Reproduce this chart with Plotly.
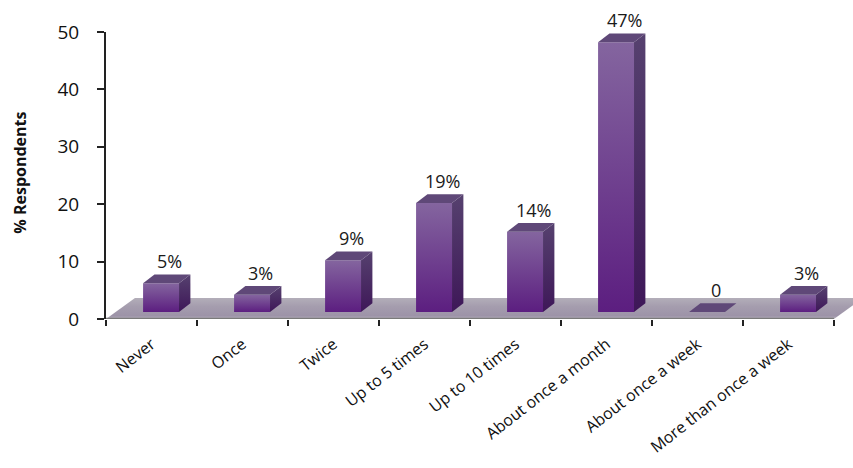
import plotly.graph_objects as go

categories = ["Never", "Once", "Twice", "Up to 5 times", "Up to 10 times",
              "About once a month", "About once a week", "More than once a week"]
values = [5, 3, 9, 19, 14, 47, 0, 3]
labels = ["5%", "3%", "9%", "19%", "14%", "47%", "0", "3%"]
y_ticks = [0, 10, 20, 30, 40, 50]
Y_MAX = 50

# 3-D look parameters (in axis units)
W = 0.395      # bar front width (category units)
FX, FY = 0.105, 1.22   # bar front offset into the floor
DX, DY = 0.125, 1.52   # bar depth
FLX, FLY = 0.318, 3.66  # floor depth

fig = go.Figure()

# floor
n = len(categories)
fig.add_trace(go.Scatter(
    x=[-0.5, n - 0.5, n - 0.5 + FLX, -0.5 + FLX, -0.5],
    y=[0, 0, FLY, FLY, 0],
    mode="lines", line=dict(width=0), fill="toself",
    fillgradient=dict(type="vertical", start=0, stop=FLY,
                      colorscale=[[0, "#b9b4c0"], [0.15, "#9d93a8"], [0.6, "#a59dae"], [1, "#b3aeb9"]]),
    hoverinfo="skip", showlegend=False))

# x axis line
fig.add_trace(go.Scatter(x=[-0.5, n - 0.5], y=[0, 0], mode="lines",
                         line=dict(color="#7a7a7a", width=2.5),
                         hoverinfo="skip", showlegend=False))

for i, v in enumerate(values):
    bx = i - W / 2 + FX
    by = FY
    if v > 0:
        # front face
        fig.add_trace(go.Scatter(
            x=[bx, bx + W, bx + W, bx, bx], y=[by, by, by + v, by + v, by],
            mode="lines", line=dict(width=0), fill="toself",
            fillgradient=dict(type="vertical", start=by, stop=by + v,
                              colorscale=[[0, "#5c1e80"], [1, "#84659f"]]),
            hoverinfo="skip", showlegend=False))
        # side face
        fig.add_trace(go.Scatter(
            x=[bx + W, bx + W + DX, bx + W + DX, bx + W, bx + W],
            y=[by, by + DY, by + v + DY, by + v, by],
            mode="lines", line=dict(width=0), fill="toself",
            fillgradient=dict(type="vertical", start=by, stop=by + v + DY,
                              colorscale=[[0, "#3e1758"], [1, "#56416f"]]),
            hoverinfo="skip", showlegend=False))
    # top face
    fig.add_trace(go.Scatter(
        x=[bx, bx + W, bx + W + DX, bx + DX, bx],
        y=[by + v, by + v, by + v + DY, by + v + DY, by + v],
        mode="lines", line=dict(width=0), fill="toself", fillcolor="#5f4878",
        hoverinfo="skip", showlegend=False))

# data labels (paper y so labels above the axis top are not hidden)
for i, (v, t) in enumerate(zip(values, labels)):
    fig.add_annotation(x=i + 0.2, y=(v + 5.05) / Y_MAX, xref="x", yref="paper", text=t,
                       showarrow=False, xanchor="center", yanchor="middle",
                       font=dict(family="Open Sans", size=18, color="#1a1a1a"))

fig.add_annotation(text="<b>% Respondents</b>", xref="paper", yref="paper",
                   x=(20 - 106) / 747, y=0.51, textangle=-90, showarrow=False,
                   xanchor="center", yanchor="middle",
                   font=dict(family="Open Sans", size=16, color="#111"))

fig.update_layout(
    width=853, height=468, autosize=False,
    margin=dict(l=106, r=0, t=32, b=149),
    paper_bgcolor="white", plot_bgcolor="white",
    font=dict(family="Open Sans", color="#111"),
    xaxis=dict(range=[-0.5, 7.709], tickmode="array", tickvals=list(range(n)),
               ticktext=categories, ticks="", showline=False, showgrid=False,
               zeroline=False, tickangle=-38, tickfont=dict(size=16, color="#111"),
               ticklabelstandoff=12,
               minor=dict(tickmode="linear", tick0=-0.5, dtick=1, ticks="outside",
                          ticklen=6, tickwidth=1.5, tickcolor="#222", showgrid=False)),
    yaxis=dict(range=[0, Y_MAX], tickmode="array", tickvals=y_ticks, ticks="outside",
               ticklen=7, tickwidth=1.5, tickcolor="#222", showline=True,
               linecolor="#222", linewidth=2, showgrid=False, zeroline=False,
               tickfont=dict(size=19, color="#111"), ticklabelstandoff=14),
)

fig.write_html("out.html")
